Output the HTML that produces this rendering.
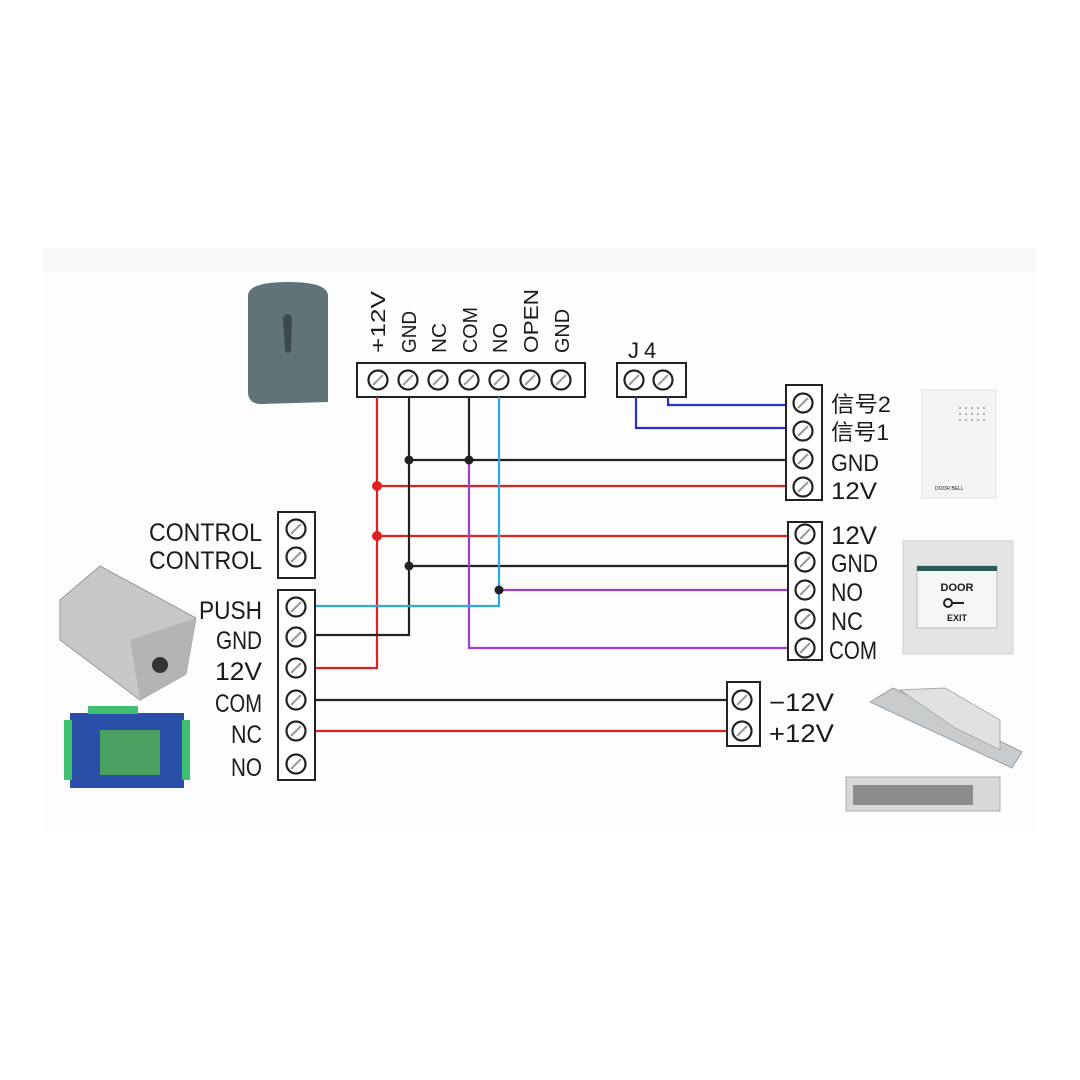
<!DOCTYPE html>
<html><head><meta charset="utf-8"><style>
html,body{margin:0;padding:0;background:#fff;}
svg{display:block;}
text{font-family:"Liberation Sans","Noto Sans CJK SC",sans-serif;fill:#1a1a1a;}
</style></head><body>
<svg width="1080" height="1080" viewBox="0 0 1080 1080" xmlns="http://www.w3.org/2000/svg">
<defs>
<g id="s"><circle r="9.5" fill="#fff" stroke="#222" stroke-width="2.2"/><line x1="-5" y1="5" x2="5" y2="-5" stroke="#999" stroke-width="2"/></g>
</defs>
<rect x="43" y="248" width="993" height="582" fill="#fdfdfd"/>
<rect x="43" y="248" width="993" height="24" fill="#f8f8f8"/>

<!-- reader -->
<path d="M248 296 Q248 282 288 282 Q328 282 328 296 L328 402 L262 404 Q248 404 248 392 Z" fill="#5f7378"/>
<path d="M283 318 Q288 310 292 318 L291 350 Q288 356 285 350 Z" fill="#3a4a4e"/>

<!-- top terminal -->
<rect x="357" y="363" width="228" height="34" fill="#fff" stroke="#222" stroke-width="2"/>
<use href="#s" x="378" y="380"/><use href="#s" x="408" y="380"/><use href="#s" x="438" y="380"/><use href="#s" x="469" y="380"/><use href="#s" x="499" y="380"/><use href="#s" x="530" y="380"/><use href="#s" x="561" y="380"/>
<g font-size="20">
<text transform="translate(385,353) rotate(-90)" textLength="62" lengthAdjust="spacingAndGlyphs">+12V</text>
<text transform="translate(416,353) rotate(-90)" textLength="42" lengthAdjust="spacingAndGlyphs">GND</text>
<text transform="translate(446,353) rotate(-90)" textLength="30" lengthAdjust="spacingAndGlyphs">NC</text>
<text transform="translate(477,353) rotate(-90)" textLength="46" lengthAdjust="spacingAndGlyphs">COM</text>
<text transform="translate(507,353) rotate(-90)" textLength="30" lengthAdjust="spacingAndGlyphs">NO</text>
<text transform="translate(538,353) rotate(-90)" textLength="64" lengthAdjust="spacingAndGlyphs">OPEN</text>
<text transform="translate(569,353) rotate(-90)" textLength="44" lengthAdjust="spacingAndGlyphs">GND</text>
</g>
<text x="628" y="358" font-size="22" letter-spacing="5">J4</text>
<rect x="617" y="363" width="69" height="34" fill="#fff" stroke="#222" stroke-width="2"/>
<use href="#s" x="634" y="380"/><use href="#s" x="663" y="380"/>

<!-- wires -->
<g fill="none" stroke-width="2.2">
<polyline points="636,397 636,428 788,428" stroke="#2233cc"/>
<polyline points="668,397 668,405 788,405" stroke="#2233cc"/>
<polyline points="377,397 377,668 316,668" stroke="#e02020"/>
<line x1="377" y1="486" x2="788" y2="486" stroke="#e02020"/>
<line x1="377" y1="536" x2="790" y2="536" stroke="#e02020"/>
<polyline points="409,397 409,635 316,635" stroke="#222"/>
<line x1="409" y1="460" x2="788" y2="460" stroke="#222"/>
<line x1="409" y1="566" x2="790" y2="566" stroke="#222"/>
<line x1="469" y1="397" x2="469" y2="460" stroke="#222"/>
<polyline points="469,460 469,648 790,648" stroke="#9a3fd0"/>
<polyline points="499,397 499,606 316,606" stroke="#30a8e0"/>
<line x1="499" y1="590" x2="790" y2="590" stroke="#9a3fd0"/>
<line x1="316" y1="700" x2="728" y2="700" stroke="#222"/>
<line x1="316" y1="731" x2="728" y2="731" stroke="#e02020"/>
</g>
<circle cx="377" cy="486" r="5" fill="#e02020"/><circle cx="377" cy="536" r="5" fill="#e02020"/>
<circle cx="409" cy="460" r="4.5" fill="#222"/><circle cx="469" cy="460" r="4.5" fill="#222"/>
<circle cx="409" cy="566" r="4.5" fill="#222"/><circle cx="499" cy="590" r="4.5" fill="#222"/>

<!-- left blocks -->
<rect x="278" y="512" width="37" height="66" fill="#fff" stroke="#222" stroke-width="2"/>
<use href="#s" x="296" y="529"/><use href="#s" x="296" y="557"/>
<rect x="278" y="590" width="37" height="190" fill="#fff" stroke="#222" stroke-width="2"/>
<use href="#s" x="296" y="607"/><use href="#s" x="296" y="637"/><use href="#s" x="296" y="668"/><use href="#s" x="296" y="700"/><use href="#s" x="296" y="731"/><use href="#s" x="296" y="764"/>
<g font-size="25" lengthAdjust="spacingAndGlyphs">
<text x="149" y="541" textLength="113" lengthAdjust="spacingAndGlyphs">CONTROL</text>
<text x="149" y="569" textLength="113" lengthAdjust="spacingAndGlyphs">CONTROL</text>
<text x="199" y="619" textLength="63" lengthAdjust="spacingAndGlyphs">PUSH</text>
<text x="216" y="649" textLength="46" lengthAdjust="spacingAndGlyphs">GND</text>
<text x="215" y="680" textLength="47" lengthAdjust="spacingAndGlyphs">12V</text>
<text x="215" y="712" textLength="47" lengthAdjust="spacingAndGlyphs">COM</text>
<text x="231" y="743" textLength="31" lengthAdjust="spacingAndGlyphs">NC</text>
<text x="231" y="776" textLength="31" lengthAdjust="spacingAndGlyphs">NO</text>
</g>

<!-- right blocks -->
<rect x="786" y="385" width="36" height="115" fill="#fff" stroke="#222" stroke-width="2"/>
<use href="#s" x="803" y="403"/><use href="#s" x="803" y="431"/><use href="#s" x="803" y="459"/><use href="#s" x="803" y="487"/>
<g font-size="22">
<text x="831" y="412" textLength="60" lengthAdjust="spacingAndGlyphs">信号2</text>
<text x="831" y="440" textLength="58" lengthAdjust="spacingAndGlyphs">信号1</text>
<text x="831" y="471" textLength="48" lengthAdjust="spacingAndGlyphs" font-size="24">GND</text>
<text x="831" y="499" textLength="46" lengthAdjust="spacingAndGlyphs" font-size="24">12V</text>
</g>
<rect x="788" y="522" width="34" height="138" fill="#fff" stroke="#222" stroke-width="2"/>
<use href="#s" x="805" y="534"/><use href="#s" x="805" y="562"/><use href="#s" x="805" y="590"/><use href="#s" x="805" y="619"/><use href="#s" x="805" y="648"/>
<g font-size="25">
<text x="831" y="544" textLength="46" lengthAdjust="spacingAndGlyphs">12V</text>
<text x="831" y="572" textLength="47" lengthAdjust="spacingAndGlyphs">GND</text>
<text x="831" y="601" textLength="32" lengthAdjust="spacingAndGlyphs">NO</text>
<text x="831" y="630" textLength="32" lengthAdjust="spacingAndGlyphs">NC</text>
<text x="829" y="659" textLength="48" lengthAdjust="spacingAndGlyphs">COM</text>
</g>
<rect x="727" y="682" width="33" height="64" fill="#fff" stroke="#222" stroke-width="2"/>
<use href="#s" x="742" y="700"/><use href="#s" x="742" y="731"/>
<g font-size="25"><text x="769" y="711" textLength="65" lengthAdjust="spacingAndGlyphs">−12V</text><text x="769" y="742" textLength="65" lengthAdjust="spacingAndGlyphs">+12V</text></g>

<!-- doorbell -->
<rect x="922" y="390" width="74" height="108" fill="#f4f4f6" stroke="#e2e2e6"/>
<g fill="#999">
<circle cx="960" cy="408" r="1"/><circle cx="966" cy="408" r="1"/><circle cx="972" cy="408" r="1"/><circle cx="978" cy="408" r="1"/><circle cx="984" cy="408" r="1"/>
<circle cx="960" cy="414" r="1"/><circle cx="966" cy="414" r="1"/><circle cx="972" cy="414" r="1"/><circle cx="978" cy="414" r="1"/><circle cx="984" cy="414" r="1"/>
<circle cx="960" cy="420" r="1"/><circle cx="966" cy="420" r="1"/><circle cx="972" cy="420" r="1"/><circle cx="978" cy="420" r="1"/><circle cx="984" cy="420" r="1"/>
</g>
<text x="935" y="490" font-size="5" fill="#999">DOOR BELL</text>
<!-- exit button -->
<rect x="903" y="541" width="110" height="113" fill="#e4e4e4" stroke="#d0d0d0"/>
<rect x="917" y="566" width="80" height="62" fill="#f6f6f6" stroke="#bbb"/>
<rect x="917" y="566" width="80" height="5" fill="#2a5a58"/>
<text x="957" y="591" font-size="11" font-weight="bold" text-anchor="middle" fill="#333">DOOR</text>
<circle cx="948" cy="603" r="4" fill="none" stroke="#222" stroke-width="2"/><line x1="952" y1="603" x2="964" y2="603" stroke="#222" stroke-width="2"/>
<text x="957" y="621" font-size="9" font-weight="bold" text-anchor="middle" fill="#333">EXIT</text>
<!-- bolt lock -->
<polygon points="870,702 893,688 1022,752 1012,768" fill="#c9cccf" stroke="#9a9ea2"/>
<polygon points="900,690 945,688 1000,720 1000,750 955,728" fill="#dfe1e3" stroke="#aaa"/>
<!-- mag lock -->
<rect x="846" y="777" width="154" height="34" fill="#d6d8da" stroke="#aaa"/>
<rect x="853" y="785" width="120" height="20" fill="#8a8c8e"/>
<!-- power supply -->
<polygon points="60,600 100,566 196,618 186,674 140,700 60,640" fill="#c8c8c8" stroke="#999"/>
<polygon points="130,640 196,618 186,674 140,700" fill="#b4b4b4"/>
<circle cx="160" cy="665" r="8" fill="#333"/>
<!-- controller board -->
<rect x="70" y="713" width="114" height="75" fill="#2a4fa8"/>
<rect x="100" y="730" width="60" height="45" fill="#4aa060"/>
<g fill="#3fbf70"><rect x="64" y="720" width="8" height="60"/><rect x="182" y="720" width="8" height="60"/><rect x="88" y="706" width="50" height="8"/></g>
</svg>
</body></html>
